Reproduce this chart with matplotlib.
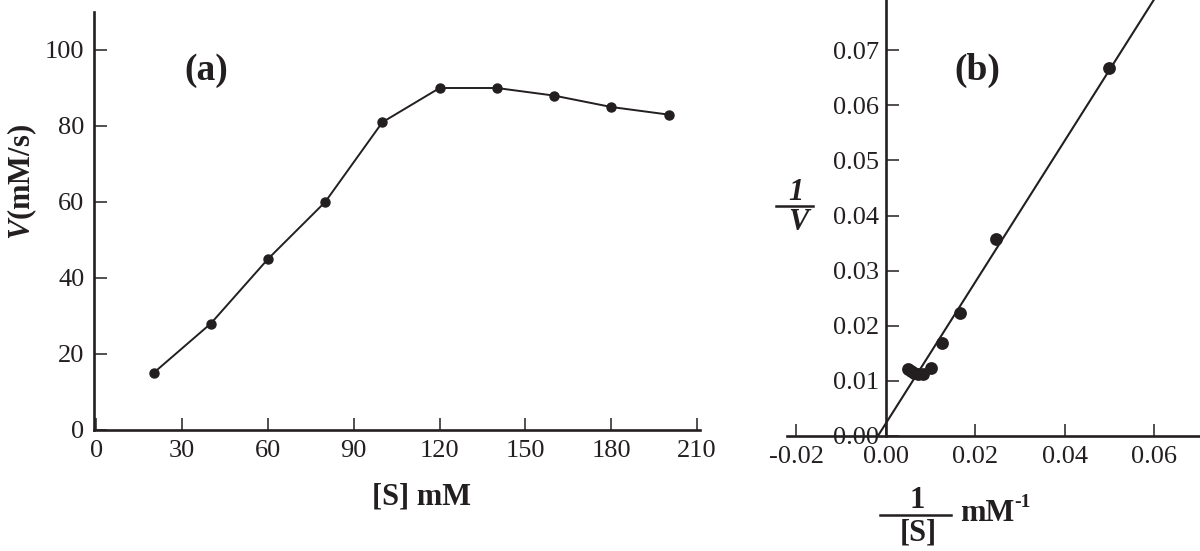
import numpy as np
import matplotlib
matplotlib.use("Agg")
import matplotlib.pyplot as plt
from matplotlib.lines import Line2D

# ---- data ----
s_conc = [20, 40, 60, 80, 100, 120, 140, 160, 180, 200]
velocity = [15, 28, 45, 60, 81, 90, 90, 88, 85, 83]

inv_s = [0.0498, 0.0247, 0.0166, 0.0125, 0.0100, 0.0083, 0.0071, 0.0063, 0.0056, 0.0050]
inv_v = [0.0667, 0.0358, 0.0223, 0.0168, 0.0124, 0.0112, 0.0112, 0.0114, 0.0118, 0.0121]

fit_slope = 1.283
fit_intercept = 0.0023
fit_x_range = [-0.0018, 0.065]

xticks_a = [0, 30, 60, 90, 120, 150, 180, 210]
yticks_a = [0, 20, 40, 60, 80, 100]
xticks_b = [-0.02, 0.00, 0.02, 0.04, 0.06]
yticks_b = [0.00, 0.01, 0.02, 0.03, 0.04, 0.05, 0.06, 0.07]

# ---- style ----
INK = '#231f20'
plt.rcParams['font.family'] = ['Liberation Serif', 'DejaVu Serif']
plt.rcParams['axes.unicode_minus'] = False
plt.rcParams['mathtext.fontset'] = 'custom'
plt.rcParams['mathtext.rm'] = 'Liberation Serif:bold'
plt.rcParams['mathtext.bf'] = 'Liberation Serif:bold'
plt.rcParams['mathtext.it'] = 'Liberation Serif:italic:bold'

W, H = 1200, 551
fig = plt.figure(figsize=(W / 100, H / 100), dpi=100)

def fx(px):
    return px / W

def fy(py):
    return 1 - py / H

TICK_FS = 19
LAB_FS = 22

# ---- panel (a) ----
axa = fig.add_axes([fx(94), fy(430), fx(700) - fx(94), fy(12) - fy(430)])
axa.plot(s_conc, velocity, color=INK, lw=1.4, marker='o', ms=6.5, mfc=INK, mec=INK)
axa.set_xlim(-0.8, 211)
axa.set_ylim(0, 110)
axa.set_xticks(xticks_a)
axa.set_yticks(yticks_a)
for sp in ['top', 'right']:
    axa.spines[sp].set_visible(False)
for sp in ['left', 'bottom']:
    axa.spines[sp].set_linewidth(1.9)
    axa.spines[sp].set_color(INK)
axa.tick_params(direction='in', length=9, width=1.1, colors=INK, labelsize=TICK_FS, pad=7)
axa.text(0.185, 0.861, '(a)', transform=axa.transAxes, ha='center', va='center',
         fontsize=27, fontweight='bold', color=INK)

fig.text(fx(22), fy(182), r'$\mathit{V}\mathrm{(mM/s)}$', rotation=90,
         ha='center', va='center', fontsize=LAB_FS, color=INK)
fig.text(fx(422), fy(497), '[S] mM', ha='center', va='center',
         fontsize=LAB_FS, fontweight='bold', color=INK)

# ---- panel (b) ----
axb = fig.add_axes([fx(787), fy(436), fx(1200) - fx(787), fy(0) - fy(436)])
axb.scatter(inv_s, inv_v, s=85, color=INK, zorder=3, linewidths=0)
fx_line = np.array(fit_x_range)
axb.plot(fx_line, fit_slope * fx_line + fit_intercept, color=INK, lw=1.5)
axb.set_xlim(-0.0221, 0.0702)
axb.set_ylim(0, 0.0791)
axb.set_xticks(xticks_b)
axb.set_yticks(yticks_b)
axb.set_xticklabels(['%.2f' % v for v in xticks_b])
axb.set_yticklabels(['%.2f' % v for v in yticks_b])
axb.spines['left'].set_position(('data', 0))
axb.spines['bottom'].set_position(('data', 0))
for sp in ['top', 'right']:
    axb.spines[sp].set_visible(False)
for sp in ['left', 'bottom']:
    axb.spines[sp].set_linewidth(1.9)
    axb.spines[sp].set_color(INK)
axb.tick_params(axis='both', direction='in', length=9, width=1.1, colors=INK, labelsize=TICK_FS)
axb.tick_params(axis='x', pad=7)
axb.tick_params(axis='y', pad=5)
axb.text(0.462, 0.839, '(b)', transform=axb.transAxes, ha='center', va='center',
         fontsize=27, fontweight='bold', color=INK)

# y label: 1 / V (bold italic fraction)
fig.text(fx(796), fy(192), '1', ha='center', va='center', fontsize=LAB_FS,
         fontweight='bold', fontstyle='italic', color=INK)
fig.add_artist(Line2D([fx(776), fx(813)], [fy(206), fy(206)], transform=fig.transFigure,
                      color=INK, lw=1.8))
fig.text(fx(798), fy(222), 'V', ha='center', va='center', fontsize=LAB_FS,
         fontweight='bold', fontstyle='italic', color=INK)

# x label: 1 / [S]  mM^-1
fig.text(fx(917), fy(501), '1', ha='center', va='center', fontsize=LAB_FS,
         fontweight='bold', color=INK)
fig.add_artist(Line2D([fx(880), fx(951)], [fy(515), fy(515)], transform=fig.transFigure,
                      color=INK, lw=1.8))
fig.text(fx(918), fy(533), '[S]', ha='center', va='center', fontsize=LAB_FS,
         fontweight='bold', color=INK)
fig.text(fx(960), fy(521), 'mM', ha='left', va='baseline', fontsize=LAB_FS,
         fontweight='bold', color=INK)
fig.text(fx(1014), fy(507), '-1', ha='left', va='baseline', fontsize=14,
         fontweight='bold', color=INK)

fig.savefig('out.png', dpi=100)
